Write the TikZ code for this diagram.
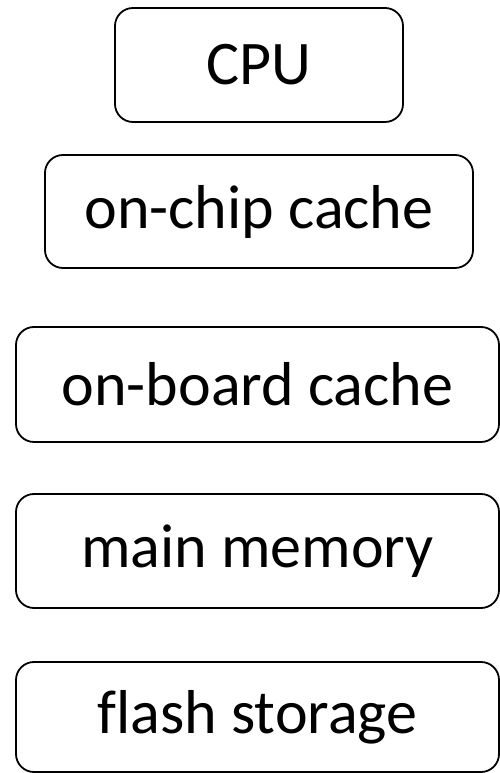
\documentclass[tikz,border=0pt]{standalone}
\usepackage{fontspec}
\setmainfont[Ligatures=NoCommon]{Carlito}
\begin{document}
\begin{tikzpicture}[x=1pt,y=1pt,
  membox/.style={draw=black, line width=1.8pt, rounded corners=18pt, inner sep=0pt,
    font=\fontsize{62}{70}\selectfont, text=black}]
\useasboundingbox (0,0) rectangle (500,773);
\node[membox, minimum width=288, minimum height=114] (cpu) at (259,708) {CPU};
\node[membox, minimum width=428, minimum height=113] (onchip) at (259,561.5) {on-chip cache};
\node[membox, minimum width=483, minimum height=115] (onboard) at (257.5,388.5) {on-board cache};
\node[membox, minimum width=483, minimum height=114] (main) at (257.5,222) {main memory};
\node[membox, minimum width=483, minimum height=110] (flash) at (257.5,56) {flash storage};
\end{tikzpicture}
\end{document}
